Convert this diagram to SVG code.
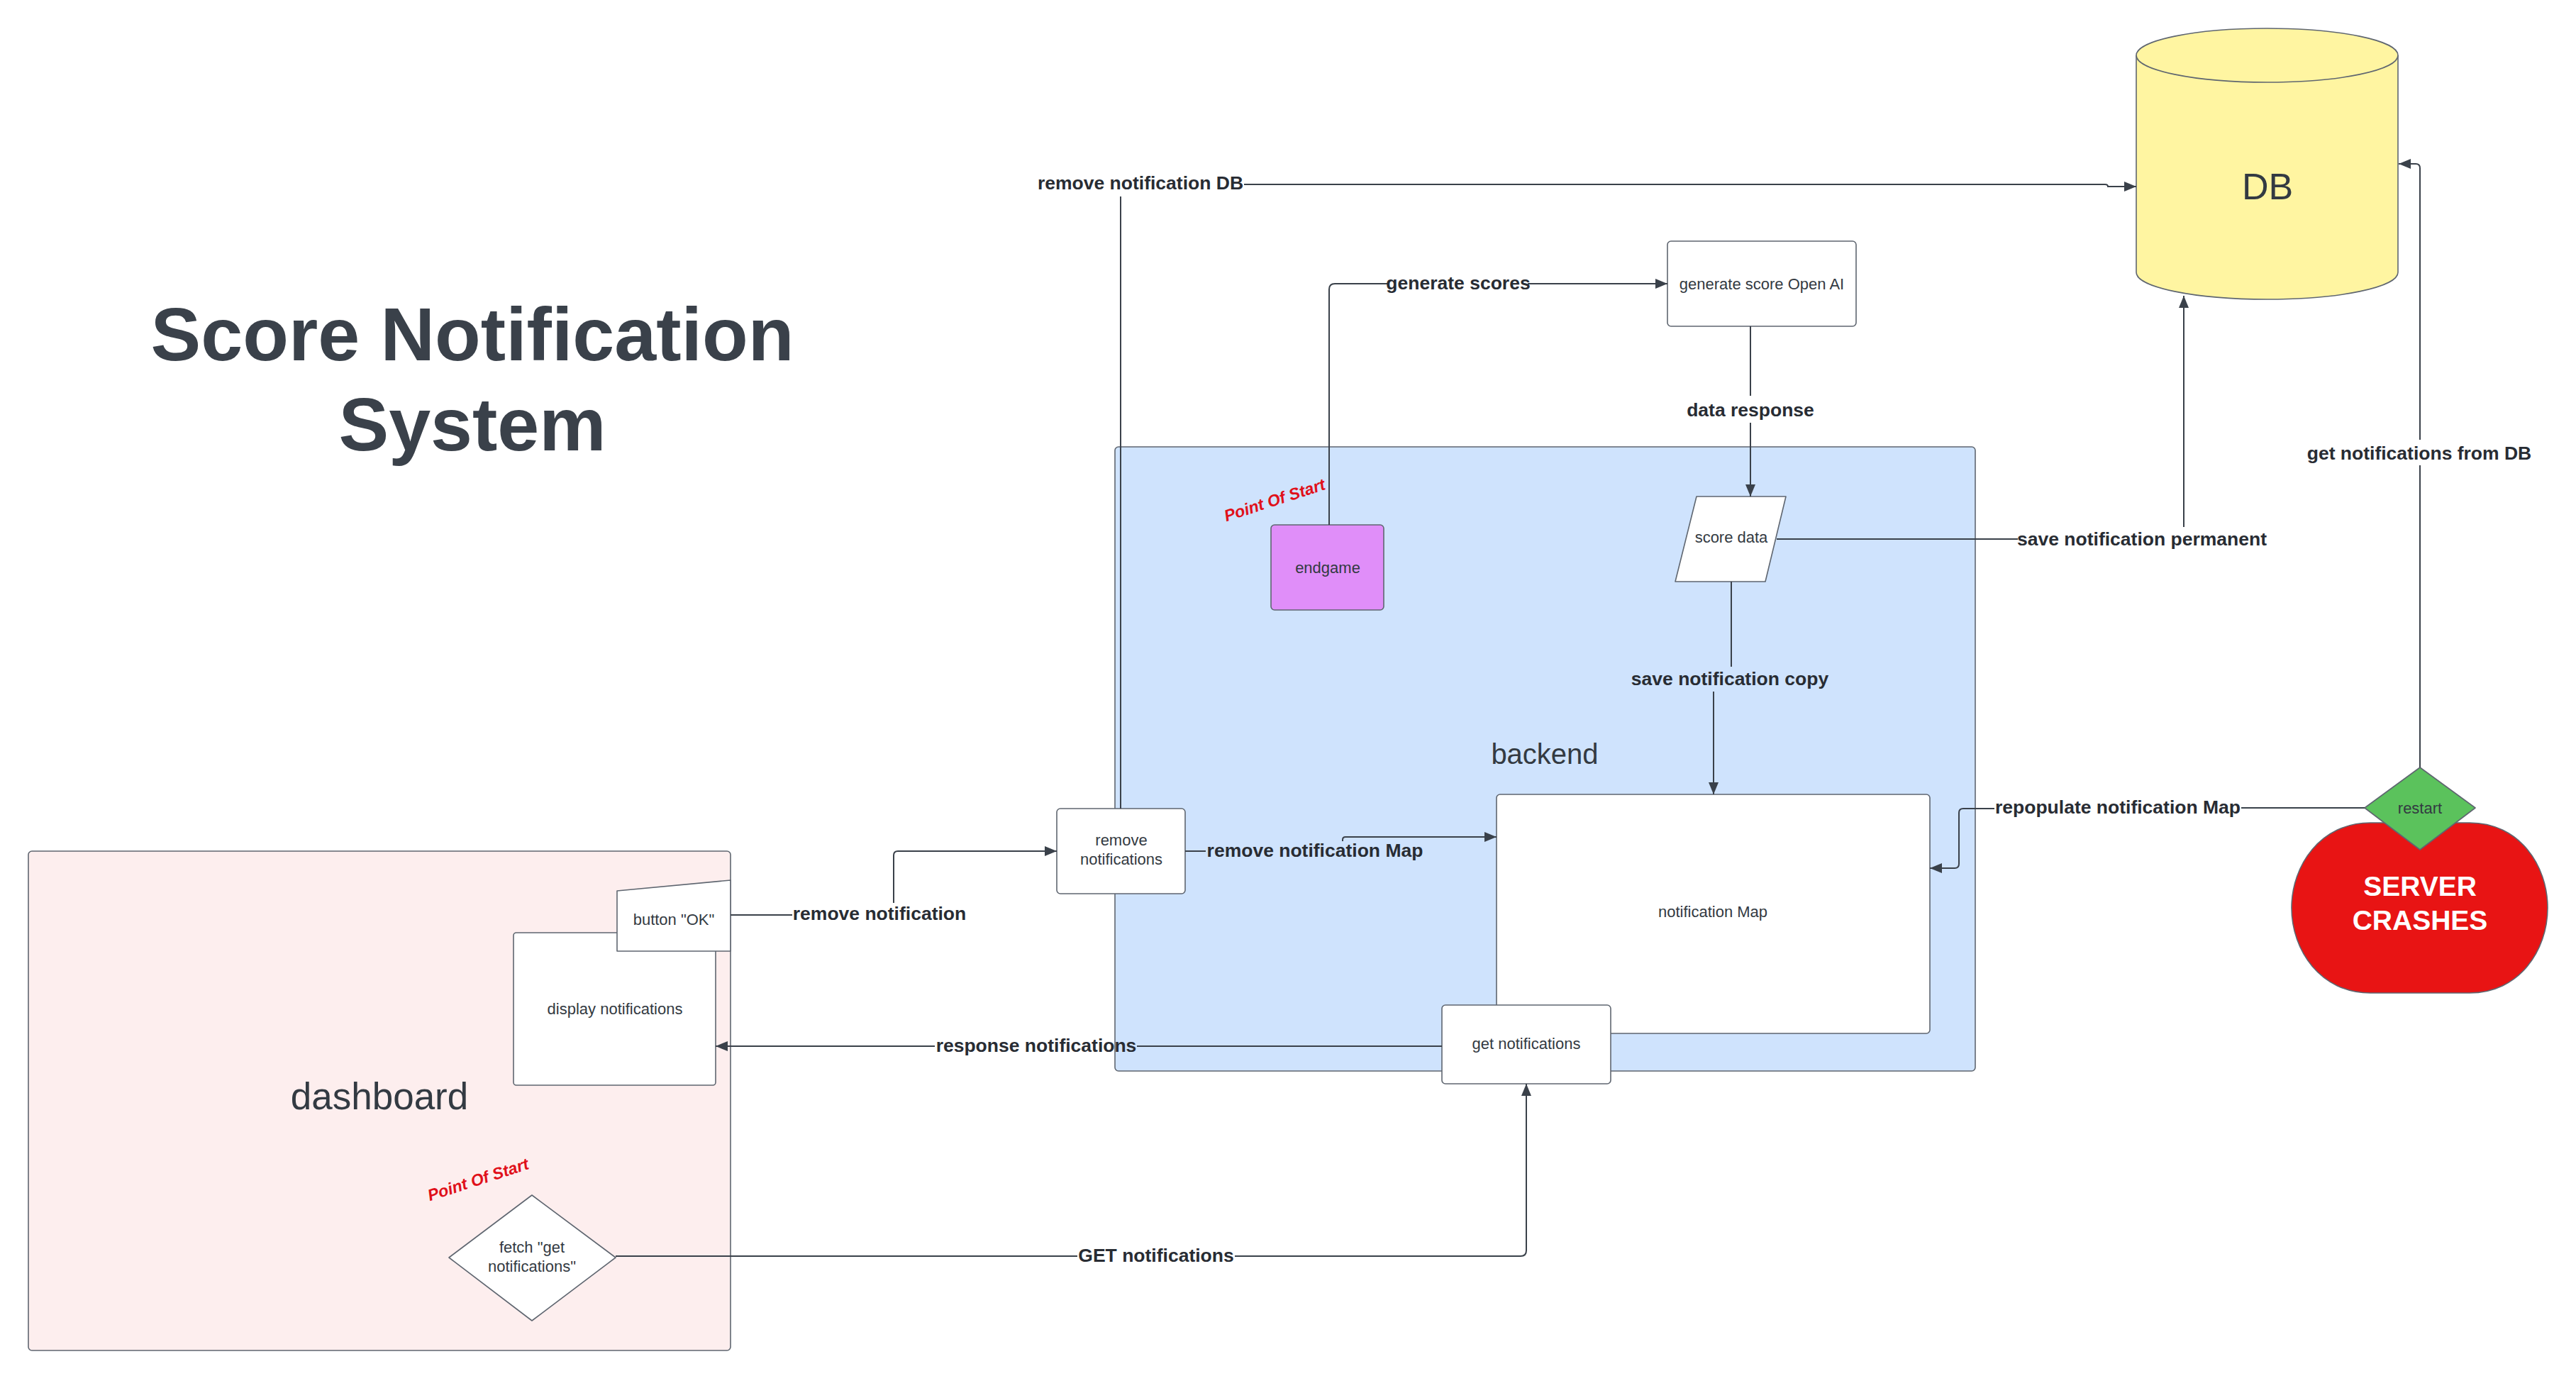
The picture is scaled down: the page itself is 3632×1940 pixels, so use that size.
<svg xmlns="http://www.w3.org/2000/svg" width="3632" height="1940" viewBox="0 0 3632 1940">
<defs>
<style>
.node{stroke:#5f6670;stroke-width:1.6}
.box{fill:#ffffff;stroke:#5f6670;stroke-width:1.6}
.txt{font-family:"Liberation Sans",Arial,sans-serif;font-size:22px;fill:#333a42;text-anchor:middle;dominant-baseline:central}
.lbl{font-family:"Liberation Sans",Arial,sans-serif;font-size:26.5px;font-weight:bold;fill:#282c33;text-anchor:middle;dominant-baseline:central}
.con{fill:none;stroke:#3a414a;stroke-width:2}
.pos{font-family:"Liberation Sans",Arial,sans-serif;font-size:23px;font-weight:bold;font-style:italic;fill:#e0101a;text-anchor:middle;dominant-baseline:central}
</style>
<marker id="arr" markerUnits="userSpaceOnUse" markerWidth="18" markerHeight="14" refX="17" refY="7" orient="auto">
<path d="M0,0 L17,7 L0,14 Z" fill="#3a414a"/>
</marker>
</defs>
<rect width="3632" height="1940" fill="#ffffff"/>

<g id="title">
<text x="666" y="508" font-family="Liberation Sans, Arial, sans-serif" font-size="106" font-weight="bold" fill="#3a414a" text-anchor="middle">Score Notification</text>
<text x="666" y="635" font-family="Liberation Sans, Arial, sans-serif" font-size="106" font-weight="bold" fill="#3a414a" text-anchor="middle">System</text>
</g>

<g id="dashboard">
<rect x="40" y="1200" width="990" height="704" rx="5" fill="#fdeeee" class="node"/>
<text x="535" y="1545" class="txt" style="font-size:53px">dashboard</text>
</g>

<g id="backend">
<rect x="1572" y="630" width="1213" height="880" rx="5" fill="#cfe3fd" class="node"/>
<text x="2178" y="1063" class="txt" style="font-size:40px">backend</text>
</g>

<g id="db">
<path d="M3012,78 V384 A184.5,38 0 0 0 3381,384 V78" fill="#fff5a1" class="node"/>
<ellipse cx="3196.5" cy="78" rx="184.5" ry="38" fill="#fff5a1" class="node"/>
<text x="3197" y="263" class="txt" style="font-size:52px">DB</text>
</g>

<g id="generate-score-openai">
<rect x="2351" y="340" width="266" height="120" rx="5" class="box"/>
<text x="2484" y="400" class="txt">generate score Open AI</text>
</g>

<g id="endgame">
<rect x="1792" y="740" width="159" height="120" rx="5" fill="#e08ef9" class="node"/>
<text x="1872" y="800" class="txt">endgame</text>
</g>

<g id="score-data">
<path d="M2392,700 H2518 L2489,820 H2362 Z" class="box" stroke-linejoin="round"/>
<text x="2441" y="757" class="txt">score data</text>
</g>

<g id="notification-map">
<rect x="2110" y="1120" width="611" height="337" rx="5" class="box"/>
<text x="2415" y="1285" class="txt">notification Map</text>
</g>

<g id="get-notifications">
<rect x="2033" y="1417" width="238" height="111" rx="5" class="box"/>
<text x="2152" y="1471" class="txt">get notifications</text>
</g>

<g id="remove-notifications">
<rect x="1490" y="1140" width="181" height="120" rx="5" class="box"/>
<text x="1581" y="1184" class="txt">remove</text>
<text x="1581" y="1211" class="txt">notifications</text>
</g>

<g id="display-notifications">
<rect x="724" y="1315" width="285" height="215" rx="4" class="box"/>
<text x="867" y="1422" class="txt">display notifications</text>
</g>

<g id="button-ok">
<path d="M870,1256 L1030,1241 V1341 H870 Z" class="box" stroke-linejoin="round"/>
<text x="950" y="1296" class="txt">button "OK"</text>
</g>

<g id="fetch-get-notifications">
<path d="M750,1685 L868,1773 L750,1862 L633,1773 Z" class="box" stroke-linejoin="round"/>
<text x="750" y="1758" class="txt">fetch "get</text>
<text x="750" y="1785" class="txt">notifications"</text>
</g>

<g id="server-crashes">
<path d="M3342,1160 H3482 C3552,1160 3592,1220 3592,1280 C3592,1340 3552,1400 3482,1400 H3342 C3272,1400 3231,1340 3231,1280 C3231,1220 3272,1160 3342,1160 Z" fill="#e81414" class="node"/>
<text x="3412" y="1263" font-family="Liberation Sans, Arial, sans-serif" font-size="39" font-weight="bold" fill="#ffffff" text-anchor="middle">SERVER</text>
<text x="3412" y="1311" font-family="Liberation Sans, Arial, sans-serif" font-size="39" font-weight="bold" fill="#ffffff" text-anchor="middle">CRASHES</text>
</g>

<g id="restart">
<path d="M3412,1082 L3490,1139 L3412,1198 L3334,1139 Z" fill="#5bc25c" class="node" stroke-linejoin="round"/>
<text x="3412" y="1139" class="txt">restart</text>
</g>

<g id="point-of-start-labels">
<text x="1797" y="705" class="pos" transform="rotate(-18 1797 705)">Point Of Start</text>
<text x="674" y="1663" class="pos" transform="rotate(-18 674 1663)">Point Of Start</text>
</g>

<g id="connectors">
<!-- remove notification DB -->
<path class="con" d="M1580,1140 V277"/>
<path class="con" d="M1754,260 H2968 Q2972,260 2972,263 H3012" marker-end="url(#arr)"/>
<text x="1608" y="258" class="lbl">remove notification DB</text>

<!-- generate scores -->
<path class="con" d="M1874,740 V408 Q1874,400 1882,400 H1958"/>
<path class="con" d="M2154,400 H2351" marker-end="url(#arr)"/>
<text x="2056" y="399" class="lbl">generate scores</text>

<!-- data response -->
<path class="con" d="M2468,460 V558"/>
<path class="con" d="M2468,596 V700" marker-end="url(#arr)"/>
<text x="2468" y="578" class="lbl">data response</text>

<!-- save notification permanent -->
<path class="con" d="M2505,760 H2845"/>
<path class="con" d="M3079,743 V417" marker-end="url(#arr)"/>
<text x="3020" y="760" class="lbl">save notification permanent</text>

<!-- save notification copy -->
<path class="con" d="M2441,820 V940"/>
<path class="con" d="M2416,975 V1120" marker-end="url(#arr)"/>
<text x="2439" y="957" class="lbl">save notification copy</text>

<!-- get notifications from DB -->
<path class="con" d="M3412,1082 V656"/>
<path class="con" d="M3412,620 V237 Q3412,231 3406,231 H3382" marker-end="url(#arr)"/>
<text x="3411" y="639" class="lbl">get notifications from DB</text>

<!-- repopulate notification Map -->
<path class="con" d="M3334,1139 H3160"/>
<path class="con" d="M2812,1140 H2768 Q2762,1140 2762,1146 V1218 Q2762,1224 2756,1224 H2721" marker-end="url(#arr)"/>
<text x="2986" y="1138" class="lbl">repopulate notification Map</text>

<!-- remove notification Map -->
<path class="con" d="M1671,1200 H1700"/>
<path class="con" d="M1893,1186 V1184 Q1893,1180 1897,1180 H2110" marker-end="url(#arr)"/>
<text x="1854" y="1199" class="lbl">remove notification Map</text>

<!-- remove notification -->
<path class="con" d="M1030,1290 H1117"/>
<path class="con" d="M1260,1273 V1206 Q1260,1200 1266,1200 H1490" marker-end="url(#arr)"/>
<text x="1240" y="1288" class="lbl">remove notification</text>

<!-- response notifications -->
<path class="con" d="M2033,1475 H1603"/>
<path class="con" d="M1318,1475 H1009" marker-end="url(#arr)"/>
<text x="1461" y="1474" class="lbl">response notifications</text>

<!-- GET notifications -->
<path class="con" d="M868,1771 H1519"/>
<path class="con" d="M1741,1771 H2144 Q2152,1771 2152,1763 V1528" marker-end="url(#arr)"/>
<text x="1630" y="1770" class="lbl">GET notifications</text>
</g>
</svg>
